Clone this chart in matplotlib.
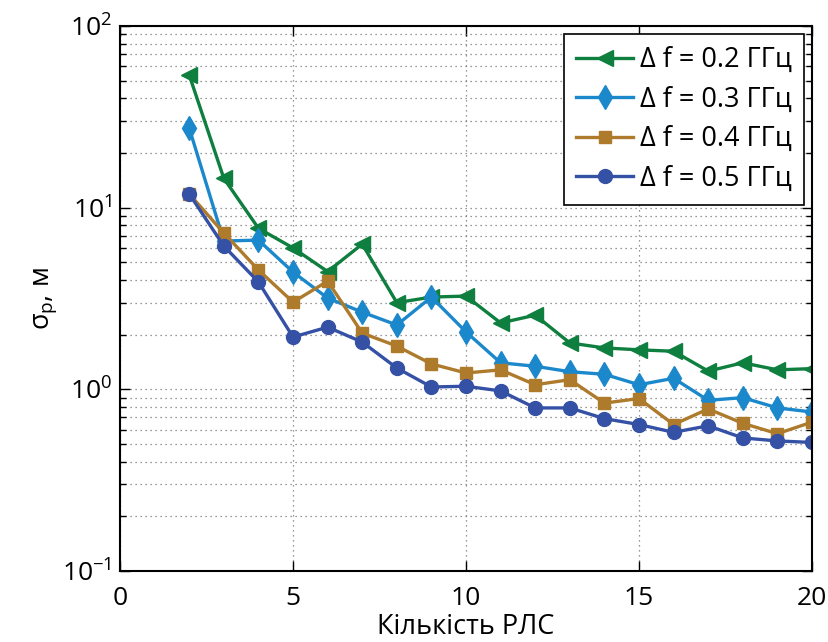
import matplotlib.pyplot as plt
from matplotlib.ticker import LogLocator, NullFormatter

plt.rcParams['font.family'] = ['Open Sans', 'DejaVu Sans']
plt.rcParams['mathtext.fontset'] = 'custom'
plt.rcParams['mathtext.rm'] = 'Open Sans'
plt.rcParams['mathtext.it'] = 'Open Sans'

# number of radars
n = list(range(2, 21))

# position error, m
s02 = [53.7, 14.5, 7.7, 6.0, 4.45, 6.3, 3.0, 3.22, 3.26, 2.32, 2.56, 1.80, 1.69,
       1.65, 1.62, 1.26, 1.40, 1.28, 1.30]
s03 = [27.4, 6.55, 6.63, 4.42, 3.18, 2.66, 2.26, 3.22, 2.07, 1.40, 1.34, 1.25, 1.21,
       1.06, 1.15, 0.87, 0.90, 0.79, 0.75]
s04 = [11.9, 7.25, 4.54, 3.02, 3.94, 2.04, 1.73, 1.38, 1.23, 1.28, 1.06, 1.13, 0.84,
       0.89, 0.64, 0.78, 0.65, 0.57, 0.66]
s05 = [11.9, 6.15, 3.90, 1.94, 2.20, 1.82, 1.31, 1.03, 1.04, 0.98, 0.79, 0.79, 0.69,
       0.64, 0.58, 0.63, 0.54, 0.52, 0.51]

labels = ['Δ f = 0.2 ГГц', 'Δ f = 0.3 ГГц', 'Δ f = 0.4 ГГц', 'Δ f = 0.5 ГГц']

fig = plt.figure(figsize=(8.29, 6.42), dpi=100)
ax = fig.add_axes([0.1448, 0.1106, 0.8347, 0.8489])

ax.plot(n, s02, '-<', color='#0e7f3e', lw=2.4, ms=11, label=labels[0])
ax.plot(n, s03, '-d', color='#1c88cc', lw=2.4, ms=12, label=labels[1])
ax.plot(n, s04, '-s', color='#ae7b2d', lw=2.4, ms=9, label=labels[2])
ax.plot(n, s05, '-o', color='#3551a5', lw=2.4, ms=10, label=labels[3])

ax.set_yscale('log')
ax.set_xlim(0, 20)
ax.set_ylim(0.1, 100)
ax.set_xticks([0, 5, 10, 15, 20])
ax.yaxis.set_minor_locator(LogLocator(base=10, subs=range(2, 10)))
ax.yaxis.set_minor_formatter(NullFormatter())

ax.grid(True, which='major', ls=(0, (1, 3)), color='#777777', lw=0.9)
ax.grid(True, which='minor', axis='y', ls=(0, (1, 3)), color='#777777', lw=0.9)
ax.tick_params(which='both', direction='in', top=True, right=True, labelsize=19)
ax.tick_params(axis='x', pad=11)
ax.tick_params(axis='y', pad=6)
ax.tick_params(which='major', length=7, width=1)
ax.tick_params(which='minor', length=4, width=1)
for sp in ax.spines.values():
    sp.set_linewidth(1.5)

ax.set_xlabel('Кількість РЛС', fontsize=19.5, labelpad=1)
ax.set_ylabel(r'$\sigma_p$, м', fontsize=19.5, labelpad=2)

leg = ax.legend(loc='upper right', fontsize=19.5, fancybox=False, framealpha=1,
                edgecolor='black', borderaxespad=0.3, handlelength=2.1,
                handletextpad=0.25, labelspacing=0.42, borderpad=0.45)
leg.get_frame().set_linewidth(1.2)

fig.savefig('out.png', dpi=100)
